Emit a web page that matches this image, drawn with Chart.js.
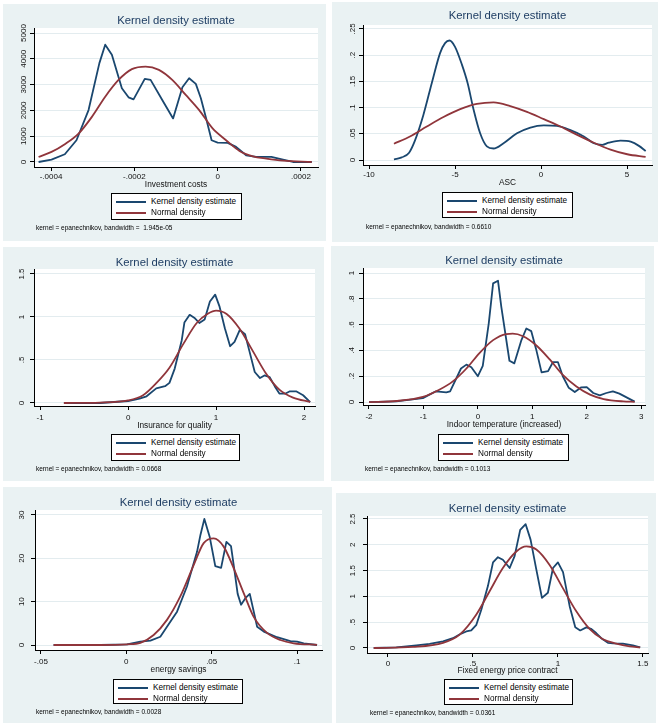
<!DOCTYPE html>
<html>
<head>
<meta charset="utf-8">
<script src="https://cdn.jsdelivr.net/npm/chart.js@4.4.1/dist/chart.umd.min.js"></script>
<style>
body { margin:0; background:#fff; width:660px; height:723px; position:relative; overflow:hidden; font-family:"Liberation Sans", Arial, sans-serif; }
.panel { position:absolute; background:#EAF2F3; }
.panel canvas { position:absolute; left:0; top:0; }
.legend { position:absolute; background:#fff; border:1px solid #000; box-sizing:border-box; }
.legend .row { position:absolute; left:0; right:0; height:10px; }
.legend .swatch { position:absolute; left:4px; width:30px; height:2px; top:4px; }
.legend .lab { position:absolute; left:39px; top:0; font-size:8.2px; line-height:10px; color:#000; white-space:nowrap; }
.note { position:absolute; font-size:6.5px; line-height:8px; white-space:pre; color:#000; }
</style>
</head>
<body>
<script>
// Investment costs
const invKdeX = [-0.00043, -0.000399, -0.000367, -0.000339, -0.00031, -0.000284, -0.00027, -0.000254, -0.00023, -0.000214, -0.000202, -0.000175, -0.000161, -0.000133, -0.000107, -0.0000846, -0.0000685, -0.0000524, -0.0000403, -0.0000282, -0.0000145, 0, 0.0000242, 0.0000443, 0.0000685, 0.0000927, 0.000129, 0.000157, 0.000181, 0.000226];
const invKdeY = [0, 91, 299, 844, 2013, 3832, 4546, 4157, 2858, 2507, 2429, 3222, 3183, 2403, 1689, 2897, 3248, 3027, 2468, 1728, 844, 753, 740, 584, 260, 195, 195, 91, 0, 0];
const invNormX = [-0.00043, -0.000399, -0.000367, -0.000334, -0.000302, -0.00027, -0.000238, -0.000206, -0.000173, -0.000141, -0.000109, -0.0000766, -0.0000443, -0.0000121, 0.0000202, 0.0000524, 0.0000847, 0.000117, 0.000157, 0.000226];
const invNormY = [195, 390, 690, 1100, 1750, 2530, 3180, 3600, 3700, 3570, 3180, 2600, 2010, 1300, 845, 430, 220, 130, 50, 0];
const invXTicks = [-0.0004, -0.0002, 0, 0.0002];
const invXLabels = ['-.0004', '-.0002', '0', '.0002'];
const invYTicks = [0, 1000, 2000, 3000, 4000, 5000];
const invYLabels = ['0', '1000', '2000', '3000', '4000', '5000'];

// ASC
const ascKdeX = [-8.55, -8.10, -7.67, -7.32, -6.84, -6.35, -5.87, -5.58, -5.32, -5.0, -4.60, -4.27, -3.92, -3.54, -3.15, -2.76, -2.18, -1.40, -0.62, 0.16, 0.93, 1.71, 2.49, 3.07, 3.56, 3.94, 4.62, 5.21, 5.69, 6.08];
const ascKdeY = [0.001, 0.005, 0.014, 0.038, 0.086, 0.147, 0.204, 0.223, 0.228, 0.216, 0.182, 0.147, 0.096, 0.051, 0.026, 0.022, 0.032, 0.051, 0.062, 0.066, 0.065, 0.057, 0.045, 0.032, 0.029, 0.033, 0.037, 0.035, 0.027, 0.017];
const ascNormX = [-8.55, -7.62, -6.64, -5.67, -4.70, -3.73, -2.76, -1.79, -0.82, 0.16, 1.13, 2.10, 3.07, 4.04, 5.01, 6.08];
const ascNormY = [0.031, 0.045, 0.064, 0.082, 0.097, 0.107, 0.110, 0.103, 0.092, 0.078, 0.064, 0.048, 0.033, 0.020, 0.011, 0.006];
const ascXTicks = [-10, -5, 0, 5];
const ascXLabels = ['-10', '-5', '0', '5'];
const ascYTicks = [0, 0.05, 0.1, 0.15, 0.2, 0.25];
const ascYLabels = ['0', '.05', '.1', '.15', '.2', '.25'];

// Insurance for quality
const insKdeX = [-0.73, -0.32, 0, 0.13, 0.21, 0.32, 0.42, 0.47, 0.53, 0.61, 0.64, 0.70, 0.76, 0.81, 0.87, 0.93, 0.99, 1.04, 1.10, 1.16, 1.21, 1.27, 1.33, 1.38, 1.44, 1.50, 1.55, 1.61, 1.67, 1.72, 1.79, 1.84, 1.91, 1.99, 2.07];
const insKdeY = [0, 0, 0.023, 0.05, 0.078, 0.17, 0.195, 0.234, 0.40, 0.73, 0.935, 1.025, 0.985, 0.93, 0.97, 1.18, 1.26, 1.12, 0.87, 0.66, 0.71, 0.85, 0.80, 0.60, 0.36, 0.29, 0.32, 0.30, 0.19, 0.11, 0.11, 0.136, 0.136, 0.09, 0.01];
const insNormX = [-0.73, -0.32, 0, 0.17, 0.32, 0.47, 0.63, 0.78, 0.91, 1.0, 1.12, 1.27, 1.42, 1.57, 1.72, 1.875, 2.07];
const insNormY = [0, 0.005, 0.03, 0.09, 0.23, 0.41, 0.69, 0.93, 1.04, 1.075, 1.035, 0.86, 0.60, 0.34, 0.155, 0.062, 0.012];
const insXTicks = [-1, 0, 1, 2];
const insXLabels = ['-1', '0', '1', '2'];
const insYTicks = [0, 0.5, 1, 1.5];
const insYLabels = ['0', '.5', '1', '1.5'];

// Indoor temperature (increased)
const tempKdeX = [-2.0, -1.50, -1.01, -0.77, -0.58, -0.51, -0.31, -0.21, -0.12, 0, 0.09, 0.20, 0.28, 0.37, 0.43, 0.58, 0.67, 0.80, 0.89, 0.98, 1.07, 1.17, 1.29, 1.38, 1.47, 1.56, 1.67, 1.78, 1.90, 2.0, 2.12, 2.24, 2.36, 2.48, 2.60, 2.88];
const tempKdeY = [0, 0.005, 0.03, 0.083, 0.075, 0.083, 0.26, 0.29, 0.27, 0.20, 0.28, 0.61, 0.92, 0.94, 0.74, 0.32, 0.30, 0.48, 0.57, 0.55, 0.41, 0.23, 0.24, 0.31, 0.31, 0.20, 0.11, 0.078, 0.114, 0.116, 0.07, 0.052, 0.07, 0.083, 0.065, 0.003];
const tempNormX = [-2.0, -1.50, -1.01, -0.71, -0.46, -0.21, 0.03, 0.28, 0.52, 0.64, 0.83, 1.07, 1.32, 1.56, 1.81, 2.06, 2.31, 2.67, 2.88];
const tempNormY = [0, 0.008, 0.04, 0.095, 0.16, 0.26, 0.38, 0.48, 0.527, 0.53, 0.51, 0.44, 0.33, 0.21, 0.12, 0.057, 0.023, 0.005, 0.002];
const tempXTicks = [-2, -1, 0, 1, 2, 3];
const tempXLabels = ['-2', '-1', '0', '1', '2', '3'];
const tempYTicks = [0, 0.2, 0.4, 0.6, 0.8, 1];
const tempYLabels = ['0', '.2', '.4', '.6', '.8', '1'];

// energy savings
const savKdeX = [-0.0426, -0.0152, 0.0004, 0.0082, 0.0141, 0.0199, 0.0238, 0.0297, 0.0355, 0.0414, 0.0434, 0.0457, 0.0488, 0.0521, 0.0555, 0.0586, 0.0613, 0.0633, 0.0652, 0.0672, 0.0697, 0.0723, 0.0766, 0.0805, 0.0883, 0.0961, 0.1, 0.1039, 0.1117];
const savKdeY = [0, 0, 0.15, 0.77, 1.0, 1.9, 4.2, 7.7, 13.5, 21.5, 25.4, 29.1, 25.0, 18.2, 17.8, 23.8, 22.8, 17.3, 11.8, 9.3, 10.8, 11.8, 4.2, 3.1, 1.8, 0.9, 0.8, 0.4, 0];
const savNormX = [-0.0426, -0.0152, 0.0004, 0.0082, 0.016, 0.0238, 0.0316, 0.0395, 0.0453, 0.0512, 0.057, 0.0629, 0.0688, 0.0746, 0.0824, 0.0902, 0.098, 0.1117];
const savNormY = [0, 0, 0.15, 0.5, 2.3, 5.8, 11.2, 18.5, 23.5, 24.6, 22.7, 17.7, 11.9, 6.5, 2.8, 1.15, 0.4, 0.05];
const savXTicks = [-0.05, 0, 0.05, 0.1];
const savXLabels = ['-.05', '0', '.05', '.1'];
const savYTicks = [0, 10, 20, 30];
const savYLabels = ['0', '10', '20', '30'];

// Fixed energy price contract
const fixKdeX = [-0.084, 0.049, 0.167, 0.245, 0.324, 0.382, 0.431, 0.461, 0.49, 0.52, 0.549, 0.588, 0.618, 0.647, 0.676, 0.716, 0.745, 0.778, 0.81, 0.839, 0.873, 0.906, 0.941, 0.971, 1.0, 1.03, 1.069, 1.102, 1.131, 1.167, 1.196, 1.225, 1.255, 1.294, 1.324, 1.382, 1.441, 1.484];
const fixKdeY = [0, 0.013, 0.05, 0.078, 0.13, 0.19, 0.28, 0.32, 0.34, 0.45, 0.74, 1.20, 1.66, 1.76, 1.71, 1.55, 1.78, 2.29, 2.40, 2.10, 1.52, 0.97, 1.07, 1.55, 1.66, 1.47, 0.81, 0.40, 0.34, 0.40, 0.37, 0.29, 0.19, 0.10, 0.09, 0.084, 0.05, 0.013];
const fixNormX = [-0.084, 0.147, 0.324, 0.422, 0.52, 0.598, 0.676, 0.755, 0.814, 0.873, 0.951, 1.029, 1.108, 1.186, 1.265, 1.343, 1.422, 1.484];
const fixNormY = [0, 0.02, 0.10, 0.26, 0.65, 1.10, 1.55, 1.87, 1.97, 1.91, 1.61, 1.16, 0.71, 0.37, 0.17, 0.085, 0.032, 0.013];
const fixXTicks = [0, 0.5, 1, 1.5];
const fixXLabels = ['0', '.5', '1', '1.5'];
const fixYTicks = [0, 0.5, 1, 1.5, 2, 2.5];
const fixYLabels = ['0', '.5', '1', '1.5', '2', '2.5'];

const BLUE = '#1A476F';
const RED = '#90353B';
const FONT = '"Liberation Sans", Arial, sans-serif';
const TITLE_SIZE = 11.3;
const AXT_SIZE = 8.3;
const TICK_SIZE = 8;
const LINE_W = 1.8;

// box = panel [left, top, width, height]; plot = chart area [left, top, right, bottom] inside the panel
const panels = [
  {box: [3, 4, 323, 237], plot: [31, 24, 315, 163], titleY: 16.7, xLabY: 10, xTitleY: 17.3, yPad: -2.2,
   legend: [108, 189, 131, 27], note: [33, 224], xr: [-0.000441, 0.000241], yr: [-194, 5194],
   kx: invKdeX, ky: invKdeY, nx: invNormX, ny: invNormY, xt: invXTicks, xl: invXLabels, yt: invYTicks, yl: invYLabels,
   xTitle: 'Investment costs', noteText: 'kernel = epanechnikov, bandwidth =  1.945e-05', smooth: false},
  {box: [332, 2, 326, 240], plot: [31, 23, 320, 163], titleY: 14, xLabY: 10, xTitleY: 17.7, yPad: 0.7,
   legend: [110, 190, 131, 26], note: [34, 225], xr: [-10.35, 6.45], yr: [-0.0095, 0.2576],
   kx: ascKdeX, ky: ascKdeY, nx: ascNormX, ny: ascNormY, xt: ascXTicks, xl: ascXLabels, yt: ascYTicks, yl: ascYLabels,
   xTitle: 'ASC', noteText: 'kernel = epanechnikov, bandwidth = 0.6610', smooth: true},
  {box: [3, 247, 321, 234], plot: [31, 22, 312, 159], titleY: 15.7, xLabY: 11.7, xTitleY: 19.3, yPad: 2.4,
   legend: [108, 187, 129, 27], note: [33, 221.7], xr: [-1.07, 2.125], yr: [-0.035, 1.558],
   kx: insKdeX, ky: insKdeY, nx: insNormX, ny: insNormY, xt: insXTicks, xl: insXLabels, yt: insYTicks, yl: insYLabels,
   xTitle: 'Insurance for quality', noteText: 'kernel = epanechnikov, bandwidth = 0.0668', smooth: false},
  {box: [331, 246, 323, 235], plot: [32, 22, 314, 159], titleY: 15, xLabY: 11.7, xTitleY: 20, yPad: 4,
   legend: [107, 188, 131, 27], note: [34, 223], xr: [-2.11, 3.07], yr: [-0.023, 1.039],
   kx: tempKdeX, ky: tempKdeY, nx: tempNormX, ny: tempNormY, xt: tempXTicks, xl: tempXLabels, yt: tempYTicks, yl: tempYLabels,
   xTitle: 'Indoor temperature (increased)', noteText: 'kernel = epanechnikov, bandwidth = 0.1013', smooth: false},
  {box: [3, 487, 329, 236], plot: [32, 23, 319, 163], titleY: 15.7, xLabY: 11.7, xTitleY: 19.3, yPad: 4.9,
   legend: [110, 192, 130, 25], note: [33, 225.3], xr: [-0.0535, 0.1146], yr: [-1.15, 31.15],
   kx: savKdeX, ky: savKdeY, nx: savNormX, ny: savNormY, xt: savXTicks, xl: savXLabels, yt: savYTicks, yl: savYLabels,
   xTitle: 'energy savings', noteText: 'kernel = epanechnikov, bandwidth = 0.0028', smooth: false},
  {box: [336, 493, 320, 230], plot: [31, 23, 312, 160], titleY: 16.3, xLabY: 10.3, xTitleY: 18, yPad: 4.7,
   legend: [108, 186, 129, 26], note: [34, 220.3], xr: [-0.1235, 1.53], yr: [-0.097, 2.558],
   kx: fixKdeX, ky: fixKdeY, nx: fixNormX, ny: fixNormY, xt: fixXTicks, xl: fixXLabels, yt: fixYTicks, yl: fixYLabels,
   xTitle: 'Fixed energy price contract', noteText: 'kernel = epanechnikov, bandwidth = 0.0361', smooth: false}
];

// white plot region behind the grid
const plotBg = {
  id: 'plotBg',
  beforeDraw(chart) {
    const a = chart.chartArea;
    chart.ctx.save();
    chart.ctx.fillStyle = '#fff';
    chart.ctx.fillRect(a.left, a.top, a.right - a.left, a.bottom - a.top);
    chart.ctx.restore();
  }
};

function addLegend(div, p) {
  const [lx, ly, lw, lh] = p.legend;
  const box = document.createElement('div');
  box.className = 'legend';
  box.style.cssText = `left:${lx}px;top:${ly}px;width:${lw}px;height:${lh}px;`;
  [['Kernel density estimate', BLUE, 8.5], ['Normal density', RED, 19.5]].forEach(([txt, col, cy]) => {
    const row = document.createElement('div');
    row.className = 'row';
    row.style.top = (cy - 5 - 1) + 'px';
    row.innerHTML = `<div class="swatch" style="background:${col}"></div><div class="lab">${txt}</div>`;
    box.appendChild(row);
  });
  div.appendChild(box);
}

function buildPanel(p) {
  const [L, T, W, H] = p.box;
  const [pl, pt, pr, pb] = p.plot;
  const div = document.createElement('div');
  div.className = 'panel';
  div.style.cssText = `left:${L}px;top:${T}px;width:${W}px;height:${H}px;`;
  const canvas = document.createElement('canvas');
  canvas.width = W;
  canvas.height = H;
  canvas.style.width = W + 'px';
  canvas.style.height = H + 'px';
  div.appendChild(canvas);
  document.body.appendChild(div);

  const titleLH = TITLE_SIZE * 1.2;
  const xH = p.xTitleY + AXT_SIZE * 1.2 / 2;

  new Chart(canvas, {
    type: 'line',
    data: {
      datasets: [
        {label: 'Kernel density estimate', data: p.kx.map((x, i) => ({x: x, y: p.ky[i]})),
         borderColor: BLUE, borderWidth: LINE_W, pointRadius: 0, borderJoinStyle: 'round',
         tension: p.smooth ? 0.4 : 0, cubicInterpolationMode: p.smooth ? 'monotone' : 'default', order: 1},
        {label: 'Normal density', data: p.nx.map((x, i) => ({x: x, y: p.ny[i]})),
         borderColor: RED, borderWidth: LINE_W, pointRadius: 0, borderJoinStyle: 'round',
         cubicInterpolationMode: 'monotone', order: 0}
      ]
    },
    options: {
      responsive: false,
      animation: false,
      devicePixelRatio: 1,
      events: [],
      layout: {padding: {left: 0, top: 0, right: W - pr, bottom: H - pb - xH}},
      plugins: {
        legend: {display: false},
        tooltip: {enabled: false},
        title: {
          display: true,
          text: 'Kernel density estimate',
          fullSize: false,
          color: '#1E3D63',
          font: {family: FONT, size: TITLE_SIZE, weight: 'normal'},
          padding: {top: p.titleY - titleLH / 2, bottom: pt - p.titleY - titleLH / 2}
        }
      },
      scales: {
        x: {
          type: 'linear',
          min: p.xr[0],
          max: p.xr[1],
          afterBuildTicks: s => { s.ticks = p.xt.map(v => ({value: v})); },
          afterFit: s => { s.height = xH; },
          ticks: {autoSkip: false, minRotation: 0, maxRotation: 0, padding: p.xLabY - 4 - TICK_SIZE * 0.6,
                  color: '#111', font: {family: FONT, size: TICK_SIZE}, callback: (v, i) => p.xl[i]},
          grid: {display: true, drawOnChartArea: false, drawTicks: true, tickLength: 4, tickColor: '#000', tickWidth: 1},
          border: {display: true, color: '#000', width: 1},
          title: {display: true, text: p.xTitle, color: '#111', font: {family: FONT, size: AXT_SIZE}, padding: 0}
        },
        y: {
          type: 'linear',
          min: p.yr[0],
          max: p.yr[1],
          afterBuildTicks: s => { s.ticks = p.yt.map(v => ({value: v})); },
          afterFit: s => { s.width = pl; },
          ticks: {autoSkip: false, minRotation: 90, maxRotation: 90, crossAlign: 'center', padding: p.yPad,
                  color: '#111', font: {family: FONT, size: TICK_SIZE}, callback: (v, i) => p.yl[i]},
          grid: {color: '#E3ECEF', lineWidth: 1, drawTicks: true, tickLength: 4, tickColor: '#000', tickWidth: 1},
          border: {display: true, color: '#000', width: 1}
        }
      }
    },
    plugins: [plotBg]
  });

  addLegend(div, p);
  const note = document.createElement('div');
  note.className = 'note';
  note.style.left = p.note[0] + 'px';
  note.style.top = (p.note[1] - 4) + 'px';
  note.textContent = p.noteText;
  div.appendChild(note);
}

panels.forEach(buildPanel);
</script>
</body>
</html>
